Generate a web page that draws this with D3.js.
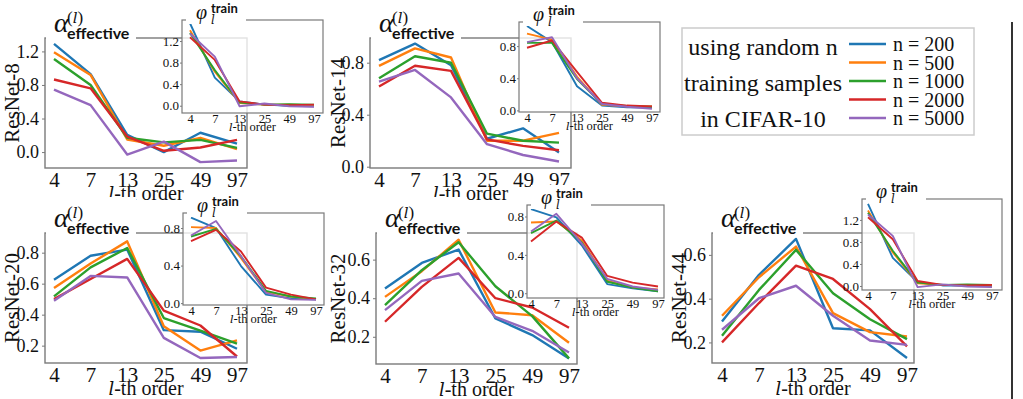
<!DOCTYPE html>
<html>
<head>
<meta charset="utf-8">
<script src="https://cdn.jsdelivr.net/npm/d3@7"></script>
<style>
  body { margin: 0; background: #fff; }
  svg { display: block; font-family: "Liberation Serif", "Times New Roman", serif; }
</style>
</head>
<body>
<svg width="1023" height="399"></svg>
<script>
// categories / series
const orders = ["4", "7", "13", "25", "49", "97"];
const sizes = ["n = 200", "n = 500", "n = 1000", "n = 2000", "n = 5000"];
const colors = ["#1f77b4", "#ff7f0e", "#2ca02c", "#d62728", "#9467bd"];
const legendText = ["using random n", "training samples", "in CIFAR-10"];

// alpha_effective (main plots), one row per n
const alpha8 = [
  [1.29, 0.93, 0.205, 0.0, 0.23, 0.10],
  [1.19, 0.92, 0.15, 0.075, 0.17, 0.035],
  [1.11, 0.80, 0.17, 0.115, 0.145, 0.05],
  [0.865, 0.76, 0.185, 0.015, 0.055, 0.145],
  [0.745, 0.56, -0.03, 0.125, -0.12, -0.10]
];
const alpha14 = [
  [0.82, 0.947, 0.78, 0.215, 0.295, 0.11],
  [0.775, 0.91, 0.84, 0.20, 0.20, 0.26],
  [0.68, 0.85, 0.80, 0.254, 0.20, 0.185],
  [0.617, 0.777, 0.737, 0.21, 0.16, 0.127],
  [0.655, 0.744, 0.533, 0.173, 0.09, 0.04]
];
const alpha20 = [
  [0.626, 0.78, 0.82, 0.30, 0.29, 0.18],
  [0.572, 0.73, 0.873, 0.325, 0.168, 0.234],
  [0.518, 0.705, 0.83, 0.378, 0.297, 0.213],
  [0.50, 0.63, 0.76, 0.426, 0.33, 0.13],
  [0.49, 0.65, 0.64, 0.25, 0.12, 0.127]
];
const alpha32 = [
  [0.45, 0.583, 0.652, 0.295, 0.209, 0.088],
  [0.407, 0.54, 0.703, 0.326, 0.312, 0.169],
  [0.364, 0.545, 0.69, 0.462, 0.307, 0.088],
  [0.278, 0.459, 0.609, 0.40, 0.352, 0.247],
  [0.338, 0.49, 0.528, 0.303, 0.231, 0.119]
];
const alpha44 = [
  [0.296, 0.509, 0.673, 0.265, 0.255, 0.129],
  [0.322, 0.498, 0.638, 0.334, 0.247, 0.227],
  [0.23, 0.44, 0.623, 0.425, 0.306, 0.215],
  [0.20, 0.38, 0.551, 0.49, 0.352, 0.182],
  [0.258, 0.402, 0.459, 0.322, 0.209, 0.189]
];

// phi_l^train (insets)
const phi8 = [
  [1.53, 0.52, 0.08, 0.02, 0.0, -0.01],
  [1.40, 0.63, 0.05, 0.02, 0.02, 0.01],
  [1.35, 0.66, 0.06, 0.02, 0.03, 0.02],
  [1.27, 0.85, 0.08, 0.02, 0.01, 0.02],
  [1.34, 0.91, -0.01, 0.04, -0.01, -0.02]
];
const phi14 = [
  [1.05, 0.85, 0.30, 0.06, 0.04, 0.035],
  [0.955, 0.88, 0.42, 0.07, 0.05, 0.05],
  [0.84, 0.84, 0.39, 0.08, 0.055, 0.045],
  [0.78, 0.87, 0.48, 0.095, 0.06, 0.05],
  [0.85, 0.91, 0.40, 0.08, 0.045, 0.02]
];
const phi20 = [
  [0.91, 0.80, 0.395, 0.09, 0.05, 0.04],
  [0.81, 0.80, 0.48, 0.12, 0.07, 0.04],
  [0.71, 0.79, 0.50, 0.13, 0.07, 0.05],
  [0.66, 0.78, 0.55, 0.165, 0.09, 0.04],
  [0.72, 0.875, 0.50, 0.11, 0.04, 0.035]
];
const phi32 = [
  [0.876, 0.79, 0.50, 0.095, 0.05, 0.02],
  [0.737, 0.748, 0.55, 0.13, 0.06, 0.04],
  [0.626, 0.758, 0.53, 0.12, 0.06, 0.02],
  [0.54, 0.748, 0.58, 0.18, 0.11, 0.07],
  [0.643, 0.828, 0.52, 0.15, 0.07, 0.035]
];
const phi44 = [
  [1.49, 0.51, 0.07, 0.01, 0.01, 0.0],
  [1.37, 0.61, 0.05, 0.02, 0.02, 0.01],
  [1.33, 0.64, 0.06, 0.02, 0.03, 0.02],
  [1.25, 0.85, 0.09, 0.02, 0.01, 0.02],
  [1.30, 0.91, -0.02, 0.03, -0.01, -0.02]
];

// tick labels
const ticks8 = [0.0, 0.4, 0.8, 1.2];
const ticks14 = [0.0, 0.4, 0.8];
const ticks20 = [0.2, 0.4, 0.6, 0.8];
const ticks32 = [0.2, 0.4, 0.6];
const ticks44 = [0.2, 0.4, 0.6];
const phiTicks8 = [0.0, 0.4, 0.8, 1.2];
const phiTicks14 = [0.0, 0.4, 0.8];
const phiTicks20 = [0.0, 0.4, 0.8];
const phiTicks32 = [0.0, 0.4, 0.8];
const phiTicks44 = [0.0, 0.4, 0.8, 1.2];

// layout: box = [x0, y0, x1, y1], xr = x range of first/last order
const panels = [
  {name: "ResNet-8", alpha: alpha8, phi: phi8, ticks: ticks8, phiTicks: phiTicks8, labelX: 12,
   box: [45, 38, 247, 168], xr: [54, 237], yd: [-0.19, 1.36],
   ibox: [182, 20, 323, 113], ixr: [190, 314], iyd: [-0.135, 1.59]},
  {name: "ResNet-14", alpha: alpha14, phi: phi14, ticks: ticks14, phiTicks: phiTicks14, labelX: 338,
   box: [370, 38, 571, 168], xr: [379, 559], yd: [-0.01, 0.99],
   ibox: [519, 22, 660, 112], ixr: [527, 652], iyd: [-0.02, 1.10]},
  {name: "ResNet-20", alpha: alpha20, phi: phi20, ticks: ticks20, phiTicks: phiTicks20, labelX: 12,
   box: [45, 233, 247, 363], xr: [54, 237], yd: [0.088, 0.927],
   ibox: [183, 213, 324, 305], ixr: [191, 316], iyd: [-0.02, 0.96]},
  {name: "ResNet-32", alpha: alpha32, phi: phi32, ticks: ticks32, phiTicks: phiTicks32, labelX: 338,
   box: [376, 233, 577, 364], xr: [385, 569], yd: [0.059, 0.738],
   ibox: [527, 205, 664, 298], ixr: [531, 658], iyd: [-0.05, 0.92]},
  {name: "ResNet-44", alpha: alpha44, phi: phi44, ticks: ticks44, phiTicks: phiTicks44, labelX: 679,
   box: [712, 233, 914, 363], xr: [722, 907], yd: [0.106, 0.70],
   ibox: [862, 199, 1002, 290], ixr: [868, 992], iyd: [-0.073, 1.58]}
];

const svg = d3.select("svg");
const spineColor = "#7a7a7a";
const serif = "'Liberation Serif', 'Times New Roman', serif";
const mathItalic = "'DejaVu Serif', serif";
const sans = "Lato, 'DejaVu Sans', sans-serif";

function addOrderLabel(sel, size) {
  sel.append("tspan").attr("font-family", mathItalic).attr("font-style", "italic")
    .attr("font-size", size * 0.9).text("l");
  sel.append("tspan").text("-th order");
}

function drawPanel(p) {
  let g = svg.append("g").attr("class", "panel");
  let [x0, y0, x1, y1] = p.box;

  let xScale = d3.scalePoint().domain(orders).range(p.xr);
  let yScale = d3.scaleLinear().domain(p.yd).range([y1, y0]);

  // main box
  g.append("rect")
    .attr("x", x0).attr("y", y0)
    .attr("width", x1 - x0).attr("height", y1 - y0)
    .attr("fill", "none")
    .attr("stroke", spineColor)
    .attr("stroke-width", 1.4);

  let yAxis = d3.axisLeft(yScale).tickValues(p.ticks).tickFormat(d3.format(".1f")).tickSize(3).tickPadding(3);
  let gY = g.append("g").attr("transform", `translate(${x0},0)`).call(yAxis);
  gY.select(".domain").remove();
  gY.selectAll(".tick line").attr("stroke", spineColor);
  gY.selectAll(".tick text").attr("font-family", serif).attr("font-size", 18).attr("fill", "#111");

  let xAxis = d3.axisBottom(xScale).tickSize(0).tickPadding(0);
  let gX = g.append("g").attr("transform", `translate(0,${y1})`).call(xAxis);
  gX.select(".domain").remove();
  gX.selectAll(".tick text")
    .attr("font-family", serif).attr("font-size", 21).attr("fill", "#111")
    .attr("dy", null).attr("y", 19);

  // x label
  let xl = g.append("text")
    .attr("x", (x0 + x1) / 2).attr("y", y1 + 32)
    .attr("text-anchor", "middle")
    .attr("font-family", serif)
    .attr("font-size", 20).attr("fill", "#111");
  addOrderLabel(xl, 20);

  // y label
  g.append("text")
    .attr("transform", `translate(${p.labelX},${(y0 + y1) / 2}) rotate(-90)`)
    .attr("text-anchor", "middle")
    .attr("dominant-baseline", "central")
    .attr("font-family", serif)
    .attr("font-size", 21).attr("fill", "#111")
    .text(p.name);

  // lines
  let line = d3.line().x((d, i) => xScale(orders[i])).y(d => yScale(d));
  g.selectAll(".alpha-line")
    .data(p.alpha)
    .enter()
    .append("path")
    .attr("class", "alpha-line")
    .attr("d", d => line(d))
    .attr("fill", "none")
    .attr("stroke", (_, i) => colors[i])
    .attr("stroke-width", 2.4)
    .attr("stroke-linejoin", "round");

  // title alpha_effective^(l)
  g.append("rect")
    .attr("x", x0 + 1).attr("y", y0 - 36)
    .attr("width", 90).attr("height", 40)
    .attr("fill", "#fff");
  g.append("text")
    .attr("x", x0 + 9).attr("y", y0 - 6)
    .attr("font-family", serif)
    .attr("font-size", 28).attr("font-style", "italic").attr("fill", "#111")
    .text("α");
  let sup = g.append("text")
    .attr("x", x0 + 22).attr("y", y0 - 15)
    .attr("font-family", serif)
    .attr("font-size", 17).attr("fill", "#111");
  sup.append("tspan").text("(");
  sup.append("tspan").attr("font-family", mathItalic).attr("font-style", "italic").attr("font-size", 15).text("l");
  sup.append("tspan").text(")");
  g.append("text")
    .attr("x", x0 + 22).attr("y", y0 + 1)
    .attr("font-family", sans)
    .attr("font-weight", "bold")
    .attr("font-size", 16).attr("fill", "#111")
    .text("effective");

  drawInset(g, p);
}

function drawInset(g, p) {
  let [x0, y0, x1, y1] = p.ibox;
  let gi = g.append("g").attr("class", "inset");

  let xScale = d3.scalePoint().domain(orders).range(p.ixr);
  let yScale = d3.scaleLinear().domain(p.iyd).range([y1, y0]);

  gi.append("rect")
    .attr("x", x0).attr("y", y0)
    .attr("width", x1 - x0).attr("height", y1 - y0)
    .attr("fill", "#fff").attr("fill-opacity", 0.78)
    .attr("stroke", spineColor)
    .attr("stroke-width", 1.2);

  let yAxis = d3.axisLeft(yScale).tickValues(p.phiTicks).tickFormat(d3.format(".1f")).tickSize(2).tickPadding(1);
  let gY = gi.append("g").attr("transform", `translate(${x0},0)`).call(yAxis);
  gY.select(".domain").remove();
  gY.selectAll(".tick line").attr("stroke", spineColor);
  gY.selectAll(".tick text").attr("font-family", serif).attr("font-size", 13).attr("fill", "#111");

  let xAxis = d3.axisBottom(xScale).tickSize(0).tickPadding(0);
  let gX = gi.append("g").attr("transform", `translate(0,${y1})`).call(xAxis);
  gX.select(".domain").remove();
  gX.selectAll(".tick text")
    .attr("font-family", serif).attr("font-size", 12.5).attr("fill", "#111")
    .attr("dy", null).attr("y", 10);

  let xl = gi.append("text")
    .attr("x", (x0 + x1) / 2).attr("y", y1 + 18)
    .attr("text-anchor", "middle")
    .attr("font-family", serif)
    .attr("font-size", 12.5).attr("fill", "#111");
  addOrderLabel(xl, 12.5);

  let line = d3.line().x((d, i) => xScale(orders[i])).y(d => yScale(d));
  gi.selectAll(".phi-line")
    .data(p.phi)
    .enter()
    .append("path")
    .attr("class", "phi-line")
    .attr("d", d => line(d))
    .attr("fill", "none")
    .attr("stroke", (_, i) => colors[i])
    .attr("stroke-width", 1.9)
    .attr("stroke-linejoin", "round");

  // title phi_l^train
  gi.append("rect")
    .attr("x", x0 + 4).attr("y", y0 - 20)
    .attr("width", 60).attr("height", 24)
    .attr("fill", "#fff");
  gi.append("text")
    .attr("x", x0 + 14).attr("y", y0 - 1)
    .attr("font-family", serif)
    .attr("font-size", 20).attr("font-style", "italic").attr("fill", "#111")
    .text("φ");
  gi.append("text")
    .attr("x", x0 + 29).attr("y", y0 + 4)
    .attr("font-family", mathItalic)
    .attr("font-size", 12).attr("font-style", "italic").attr("fill", "#111")
    .text("l");
  gi.append("text")
    .attr("x", x0 + 29).attr("y", y0 - 7)
    .attr("font-family", sans)
    .attr("font-weight", "bold")
    .attr("font-size", 13).attr("fill", "#111")
    .text("train");
}

panels.forEach(drawPanel);

// legend
let gL = svg.append("g").attr("class", "legend");
gL.append("rect")
  .attr("x", 682).attr("y", 28)
  .attr("width", 292).attr("height", 107)
  .attr("fill", "#fff")
  .attr("stroke", "#cccccc")
  .attr("stroke-width", 1.5);
let legendY = d3.scalePoint().domain(legendText).range([55, 127]);
gL.selectAll(".ltxt")
  .data(legendText)
  .enter()
  .append("text")
  .attr("x", 763)
  .attr("y", d => legendY(d))
  .attr("text-anchor", "middle")
  .attr("font-family", serif)
  .attr("font-size", 24).attr("fill", "#111")
  .text(d => d);
let entryY = d3.scalePoint().domain(sizes).range([44, 118]);
gL.selectAll(".lline")
  .data(sizes)
  .enter()
  .append("line")
  .attr("x1", 849).attr("x2", 886)
  .attr("y1", d => entryY(d)).attr("y2", d => entryY(d))
  .attr("stroke", (_, i) => colors[i])
  .attr("stroke-width", 2.4);
gL.selectAll(".llab")
  .data(sizes)
  .enter()
  .append("text")
  .attr("x", 893)
  .attr("y", d => entryY(d))
  .attr("dominant-baseline", "central")
  .attr("font-family", serif)
  .attr("font-size", 20).attr("fill", "#111")
  .text(d => d);

// right separator
svg.append("line")
  .attr("x1", 1012).attr("x2", 1012)
  .attr("y1", 22).attr("y2", 399)
  .attr("stroke", "#333")
  .attr("stroke-width", 2);
</script>
</body>
</html>
